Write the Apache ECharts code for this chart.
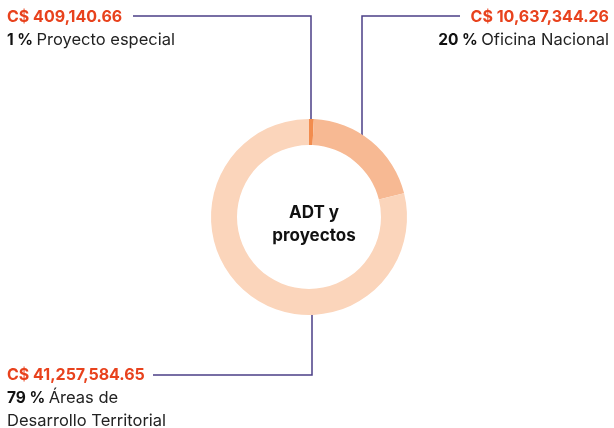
<!DOCTYPE html>
<html>
<head>
<meta charset="utf-8">
<script src="https://cdn.jsdelivr.net/npm/echarts@6/dist/echarts.min.js"></script>
<style>
  html, body { margin: 0; padding: 0; background: #fff; }
  #chart { width: 614px; height: 428px; }
</style>
</head>
<body>
<div id="chart"></div>
<script>
const names = ['Proyecto especial', 'Oficina Nacional', 'Áreas de\nDesarrollo Territorial']
const amounts = [409140.66, 10637344.26, 41257584.65]
const amountLabels = ['C$ 409,140.66', 'C$ 10,637,344.26', 'C$ 41,257,584.65']
const percents = ['1 %', '20 %', '79 %']
const colors = ['#f28c4e', '#f7b993', '#fbd5bb']

// where each label sits and how its leader line runs
const labelPos = [
  { x: 7, y: 5, align: 'left', line: [[133, 16], [311, 16], [311, 126]] },
  { x: 609, y: 5, align: 'right', line: [[460, 16], [362, 16], [362, 145]] },
  { x: 7, y: 363, align: 'left', line: [[153, 375], [312, 375], [312, 305]] }
]

const chart = echarts.init(document.getElementById('chart'))
const font = 'Inter, "Noto Sans", sans-serif'

chart.setOption({
  animation: false,
  title: {
    text: 'ADT y\nproyectos',
    left: 309,
    top: 196,
    textAlign: 'center',
    textStyle: { fontFamily: font, fontSize: 17, fontWeight: 'bold', color: '#111', lineHeight: 23 }
  },
  series: [
    {
      type: 'pie',
      center: [309, 217],
      radius: [72, 98],
      startAngle: 90,
      clockwise: true,
      silent: true,
      data: amounts.map((v, i) => ({
        value: v,
        name: names[i],
        itemStyle: { color: colors[i] }
      })),
      label: {
        show: true,
        fontFamily: font,
        formatter: p => {
          const i = p.dataIndex
          return '{amt|' + amountLabels[i] + '}\n{pct|' + percents[i] + '} {name|' +
            names[i].split('\n').join('}\n{name|') + '}'
        },
        rich: {
          amt: { fontFamily: font, fontSize: 16, fontWeight: 'bold', color: '#e8421d', lineHeight: 24 },
          pct: { fontFamily: font, fontSize: 15.5, fontWeight: 'bold', color: '#111', lineHeight: 23 },
          name: { fontFamily: font, fontSize: 16.5, color: '#222', lineHeight: 23 }
        }
      },
      labelLine: {
        show: true,
        lineStyle: { color: '#4b3f87', width: 1.5 }
      },
      labelLayout: params => {
        const lp = labelPos[params.dataIndex]
        return {
          x: lp.x,
          y: lp.y,
          align: lp.align,
          verticalAlign: 'top',
          labelLinePoints: lp.line
        }
      }
    }
  ]
})
</script>
</body>
</html>
